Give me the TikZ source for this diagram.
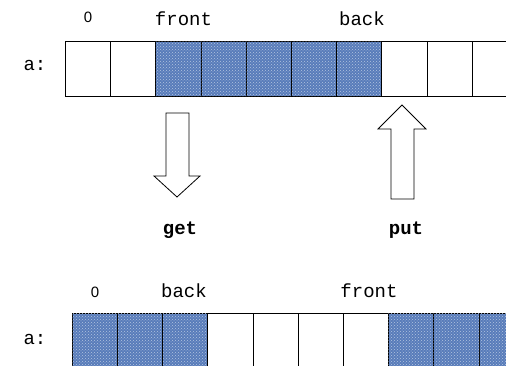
\documentclass[tikz,border=0pt]{standalone}
\usepackage{fontspec}
\setmainfont{Liberation Sans}
\newfontfamily\courfont{Liberation Mono}
\usetikzlibrary{positioning,calc,patterns}
\definecolor{qblue}{RGB}{88,124,186}
\tikzstyle{cellbox} = [draw, rectangle, minimum height=55pt, minimum width=45.2pt, inner sep=0pt, anchor=north west, line width=0.8pt]
\tikzstyle{fullcell} = [cellbox, fill=qblue, postaction={pattern=crosshatch dots, pattern color=white!55!qblue}]
\tikzstyle{code} = [font=\courfont\fontsize{19}{22}\selectfont, inner sep=0pt, anchor=base]
\tikzstyle{opname} = [font=\courfont\bfseries\fontsize{19}{22}\selectfont, inner sep=0pt, anchor=base]
\tikzstyle{index} = [font=\fontsize{15}{18}\selectfont, inner sep=0pt]
\tikzstyle{bigarrow} = [draw, line width=0.8pt, fill=white]
\begin{document}
\begin{tikzpicture}[x=1pt, y=-1pt]
        \useasboundingbox (0,0) rectangle (506,366);
        \clip (0,0) rectangle (506,366);
        % queue before
        \foreach \i/\s in {0/cellbox,1/cellbox,2/fullcell,3/fullcell,4/fullcell,5/fullcell,6/fullcell,7/cellbox,8/cellbox,9/cellbox}
          \node[\s] (top\i) at (65+45.2*\i,41) {};
        % queue after
        \foreach \i/\s in {0/fullcell,1/fullcell,2/fullcell,3/cellbox,4/cellbox,5/cellbox,6/cellbox,7/fullcell,8/fullcell,9/fullcell}
          \node[\s] (bot\i) at (71.7+45.2*\i,313.3) {};
        \node[code] (toparr) at (35,71) {a:};
        \node[index] (topzero) at (88,17) {0};
        \node[code] (topfront) at (183.5,25.5) {front};
        \node[code] (topback) at (362,25.5) {back};
        \node[code] (botarr) at (35,344) {a:};
        \node[index] (botzero) at (95,292) {0};
        \node[code] (botback) at (184,297.5) {back};
        \node[code] (botfront) at (369,297.5) {front};
        \node[opname] (get) at (180,235) {get};
        \node[opname] (put) at (406,235) {put};
        % block arrows
        \draw[bigarrow] (166,113) -- (189,113) -- (189,176) -- (200,176) -- (177,197) -- (154,176) -- (166,176) -- cycle;
        \draw[bigarrow] (391,199) -- (414,199) -- (414,129) -- (426,129) -- (402,105) -- (378,129) -- (391,129) -- cycle;
      \end{tikzpicture}
\end{document}
